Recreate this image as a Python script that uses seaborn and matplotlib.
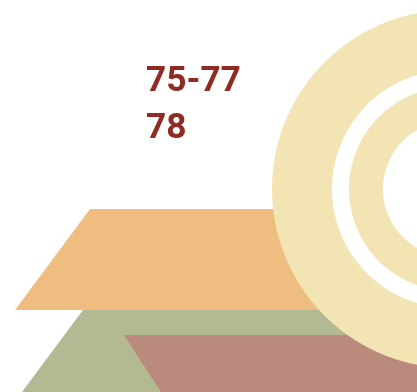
import matplotlib
matplotlib.use('Agg')
import matplotlib.pyplot as plt
from matplotlib.patches import Circle
import seaborn as sns

# ---------------------------------------------------------
# data
# ---------------------------------------------------------
labels = ['75-77', '78']

# bands: (top y, bottom y, left x at top, left x at bottom)
band_names = ['orange', 'green', 'brown']
band_top = [209, 310, 335]
band_bottom = [310, 392, 392]
band_left_top = [90, 83, 124]
band_left_bottom = [15, 22, 161]
band_colors = ['#EFBD80', '#B3B993', '#BA8A7D']

# rings: radius, drawn largest first
ring_radius = [179, 119, 102, 68]
ring_colors = ['#F2E5B3', '#FFFFFF', '#F2E5B3', '#FFFFFF']
ring_center = (451, 189)

W, H = 417, 392

# ---------------------------------------------------------
# plot
# ---------------------------------------------------------
sns.set_style("white")
plt.rcParams['font.family'] = ['Roboto', 'DejaVu Sans']

fig = plt.figure(figsize=(W / 100, H / 100), dpi=100)
ax = fig.add_axes([0, 0, 1, 1])
ax.set_xlim(0, W)
ax.set_ylim(H, 0)
ax.axis('off')

for top, bot, lt, lb, c in zip(band_top, band_bottom, band_left_top,
                               band_left_bottom, band_colors):
    ax.fill([lt, W + 50, W + 50, lb], [top, top, bot, bot], color=c, lw=0)

for r, c in zip(ring_radius, ring_colors):
    ax.add_patch(Circle(ring_center, r, color=c, lw=0))

for i, lab in enumerate(labels):
    ax.text(146, 90.5 + i * 47, lab, fontsize=25.5, fontweight='bold',
            color='#8E2B22', va='baseline', ha='left')

fig.savefig('out.png', dpi=100)
